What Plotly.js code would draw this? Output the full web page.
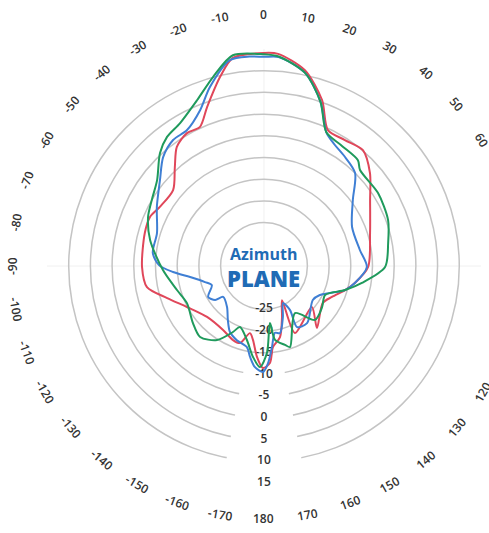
<!DOCTYPE html>
<html>
<head>
<meta charset="utf-8">
<script src="https://cdn.plot.ly/plotly-3.0.1.min.js"></script>
<style>html,body{margin:0;padding:0;background:#fff;}#chart{width:489px;height:533px;}</style>
</head>
<body>
<div id="chart"></div>
<script>
// ---- data (gain in dB vs azimuth angle in degrees) ----
const redTheta = [-179.4,-175.6,-171.5,-168.2,-162.7,-157.3,-147.4,-131.8,-118,-108.3,-100.2,-90.5,-74.5,-66.7,-60.4,-50.1,-42,-36.2,-30.1,-24.7,-19.7,-13.1,-8.5,0,3.8,11.8,19.3,25.2,32.7,40.5,48.7,58.1,72.7,90.5,100.6,106.5,114.5,122.1,139.5,130.5,155.2,152.1,160.6,167.3,173.7,176.5,180.6];
const redR     = [-11.5,-14.0,-17.8,-19.2,-16.4,-16.5,-17.5,-17.4,-14.9,-11.5,-7.6,-6.9,-6.5,-6.4,-7.4,-7.7,-4.3,-1.0,0.4,0.3,3.9,9.7,13.5,14.1,14.0,11.1,5.5,-0.4,-0.5,0.1,-2.5,-6.2,-9.4,-11.0,-13.7,-15.5,-17.8,-19.0,-16.2,-20.5,-18.0,-26.1,-22.5,-18.2,-16.2,-12.6,-11.5];

const blueTheta = [-179.5,-174.9,-171.3,-168.1,-159.9,-152.7,-146.3,-137.9,-127.1,-124.8,-118.9,-110.1,-105.2,-98.5,-93.8,-89.5,-83.3,-72.9,-61.1,-50.4,-42.8,-35.8,-29.5,-22.3,-16.8,-9.4,-4,0,4,12,19,25,30,36,44.4,53.4,66.1,80.5,90.6,100.6,106.5,112.2,117.4,124.8,143,151.6,149.4,152.8,159.6,166.6,170.7,174.4,177.6,180.5];
const blueR     = [-10.6,-11.6,-13.8,-15.9,-16.8,-17.9,-20.0,-22.3,-23.2,-21.3,-20.3,-22.2,-20.9,-17.8,-14.0,-10.8,-9.2,-9.2,-6.8,-3.9,-0.8,0.8,1.0,3.8,8.1,13.1,13.4,13.2,13.3,10.5,5.0,-1.0,-2.6,-3.6,-5.0,-9.5,-12.8,-12.6,-11.3,-13.7,-15.5,-18.6,-20.5,-21.3,-18.5,-19.0,-23.2,-25.4,-22.5,-19.1,-19.4,-16.2,-12.6,-10.6];

const greenTheta = [-177.7,-173.1,-167,-158.5,-154.8,-147.6,-138,-128.8,-115.7,-105.4,-92.3,-77.2,-67.1,-59.5,-51.2,-42.6,-36.9,-30.4,-22,-15.1,-8.4,0,4,12,19,25,33,41.6,45,57.4,69.6,79.5,90.5,99.8,106.5,115.4,125.3,136.6,146.6,162.2,165.1,171.5,174,178,182.3];
const greenR     = [-11.7,-13.9,-17.5,-19.9,-18.2,-14.8,-13.0,-14.0,-15.3,-14.2,-11.7,-8.1,-6.0,-5.0,-3.4,0.4,2.2,3.2,6.2,10.1,14.1,13.8,13.4,10.5,5.0,-1.0,-2.0,-2.4,-3.7,-3.8,-4.5,-5.9,-7.1,-12.1,-15.5,-19.4,-18.6,-17.9,-22.0,-15.4,-16.2,-17.8,-21.8,-15.0,-11.7];

const radialTicks  = [-25,-20,-15,-10,-5,0,5,10,15];
const radialRange  = [-35,15];
// angle labels visible in the (cropped) picture
const angleTicks   = [0,10,20,30,40,50,60,120,130,140,150,160,170,180,
                      -170,-160,-150,-140,-130,-120,-110,-100,-90,-80,-70,-60,-50,-40,-30,-20,-10];
const angleLabels  = angleTicks.map(String);
// angular band around 180 deg kept clear of ring lines behind the radial labels
const labelBandTheta = [169, 191];
const labelBandR     = [-12.5, 15.6];

// ---- layout geometry ----
const W = 489, H = 533;
const domX = [0.0961, 0.9836], domY = [0.0938, 0.908];
const cx = (domX[0] + domX[1]) / 2 * W;
const cy = (1 - (domY[0] + domY[1]) / 2) * H;
const Rpx = (domX[1] - domX[0]) * W / 2;
const labelR = Rpx + 35;

const labelFont = {family: 'Open Sans, sans-serif', size: 12, color: '#333333', weight: 600};

const angAnnotations = angleTicks.map((t, i) => {
  const a = t * Math.PI / 180;
  const px = cx + labelR * Math.sin(a);
  const py = cy - labelR * Math.cos(a);
  let rot = t;
  if (t > 90) rot = t - 180;
  if (t < -90) rot = t + 180;
  return {
    xref: 'paper', yref: 'paper', x: px / W, y: 1 - py / H,
    xanchor: 'center', yanchor: 'middle', showarrow: false,
    text: angleLabels[i], textangle: rot, font: labelFont
  };
});

const titleAnnotations = [
  {xref: 'paper', yref: 'paper', x: cx / W, y: 1 - 254 / H, xanchor: 'center', yanchor: 'middle',
   showarrow: false, text: 'Azimuth', font: {family: 'Open Sans, sans-serif', size: 16, color: '#1f6bb5', weight: 700}},
  {xref: 'paper', yref: 'paper', x: cx / W, y: 1 - 278 / H, xanchor: 'center', yanchor: 'middle',
   showarrow: false, text: 'PLANE', font: {family: 'Open Sans, sans-serif', size: 22, color: '#1f6bb5', weight: 800}}
];

// band mask: outer arc then inner arc
const bandT = [], bandR = [];
for (let t = labelBandTheta[0]; t <= labelBandTheta[1]; t += 1) { bandT.push(t); bandR.push(labelBandR[1]); }
for (let t = labelBandTheta[1]; t >= labelBandTheta[0]; t -= 1) { bandT.push(t); bandR.push(labelBandR[0]); }

const lineStyle = (c) => ({color: c, width: 2, shape: 'spline', smoothing: 0.8});

const traces = [
  {type: 'scatterpolar', mode: 'lines', r: bandR, theta: bandT, fill: 'toself', fillcolor: '#ffffff',
   line: {width: 0, color: 'rgba(0,0,0,0)'}, hoverinfo: 'skip', showlegend: false},
  {type: 'scatterpolar', mode: 'text', r: radialTicks, theta: radialTicks.map(() => 180),
   text: radialTicks.map(String), textfont: {family: 'Open Sans, sans-serif', size: 12, color: '#333', weight: 600},
   hoverinfo: 'skip', showlegend: false, cliponaxis: false},
  {type: 'scatterpolar', mode: 'lines', name: 'red', r: redR, theta: redTheta, line: lineStyle('#e0475a'), showlegend: false},
  {type: 'scatterpolar', mode: 'lines', name: 'blue', r: blueR, theta: blueTheta, line: lineStyle('#3f7fd4'), showlegend: false},
  {type: 'scatterpolar', mode: 'lines', name: 'green', r: greenR, theta: greenTheta, line: lineStyle('#1f9a5c'), showlegend: false}
];

const layout = {
  width: W, height: H,
  margin: {l: 0, r: 0, t: 0, b: 0},
  paper_bgcolor: '#fff',
  showlegend: false,
  polar: {
    domain: {x: domX, y: domY},
    bgcolor: 'rgba(0,0,0,0)',
    radialaxis: {range: radialRange, tickvals: radialTicks, showticklabels: false, ticks: '',
                 showline: false, gridcolor: '#c4c4c4', gridwidth: 1.5, angle: 270, layer: 'below traces'},
    angularaxis: {rotation: 90, direction: 'clockwise', tickvals: [0, 90, 180, 270], showticklabels: false,
                  ticks: '', showline: false, gridcolor: '#f0f0f0', gridwidth: 1, layer: 'below traces'}
  },
  annotations: angAnnotations.concat(titleAnnotations)
};

Plotly.newPlot('chart', traces, layout, {displayModeBar: false, staticPlot: true});
</script>
</body>
</html>
